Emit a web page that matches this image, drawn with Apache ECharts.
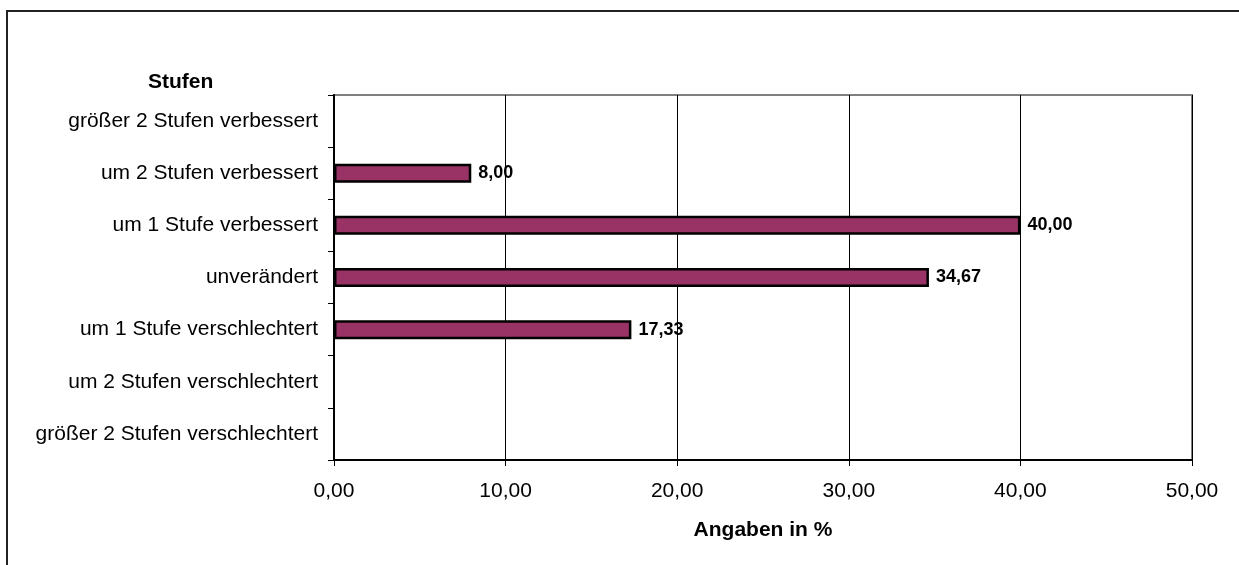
<!DOCTYPE html>
<html>
<head>
<meta charset="utf-8">
<script src="https://cdn.jsdelivr.net/npm/echarts@6/dist/echarts.min.js"></script>
<style>
  html, body { margin: 0; padding: 0; background: #fff; }
  #chart { width: 1239px; height: 565px; }
</style>
</head>
<body>
<div id="chart"></div>
<script>
// Categories listed top to bottom
const stufen = [
  'größer 2 Stufen verbessert',
  'um 2 Stufen verbessert',
  'um 1 Stufe verbessert',
  'unverändert',
  'um 1 Stufe verschlechtert',
  'um 2 Stufen verschlechtert',
  'größer 2 Stufen verschlechtert'
];
// Share in percent ('-' = no value)
const anteile = ['-', 8.00, 40.00, 34.67, 17.33, '-', '-'];

const axisMin = 0;
const axisMax = 50;
const axisStep = 10;

const fmt = v => Number(v).toFixed(2).replace('.', ',');
const fontFamily = 'Liberation Sans, Arial, sans-serif';

const chart = echarts.init(document.getElementById('chart'), null, { renderer: 'canvas' });

chart.setOption({
  animation: false,
  backgroundColor: '#ffffff',
  textStyle: { fontFamily: fontFamily },
  title: {
    text: 'Stufen',
    left: 148,
    top: 72,
    padding: 0,
    textStyle: { fontFamily: fontFamily, fontSize: 21, fontWeight: 'bold', color: '#000' }
  },
  graphic: [{
    type: 'rect',
    shape: { x: 7, y: 11, width: 1400, height: 800 },
    style: { fill: 'none', stroke: '#222', lineWidth: 2 },
    silent: true
  }],
  grid: {
    left: 334,
    right: 47,
    top: 95,
    bottom: 105,
    show: true,
    borderColor: '#808080',
    borderWidth: 2,
    backgroundColor: 'transparent',
    outerBoundsMode: 'none'
  },
  xAxis: {
    type: 'value',
    min: axisMin,
    max: axisMax,
    interval: axisStep,
    name: 'Angaben in %',
    nameLocation: 'middle',
    nameGap: 60,
    nameTextStyle: { fontFamily: fontFamily, fontSize: 21, fontWeight: 'bold', color: '#000' },
    axisLine: { show: true, lineStyle: { color: '#000', width: 2 } },
    axisTick: { show: true, inside: false, length: 6, lineStyle: { color: '#000', width: 1 } },
    axisLabel: {
      margin: 21,
      fontFamily: fontFamily,
      fontSize: 21,
      color: '#000',
      formatter: v => fmt(v)
    },
    splitLine: { show: true, lineStyle: { color: '#000', width: 1 } }
  },
  yAxis: {
    type: 'category',
    data: stufen,
    inverse: true,
    axisLine: { show: true, lineStyle: { color: '#000', width: 2 } },
    axisTick: { show: true, inside: false, length: 6, lineStyle: { color: '#000', width: 1 } },
    axisLabel: {
      margin: 16,
      fontFamily: fontFamily,
      fontSize: 21,
      color: '#000'
    },
    splitLine: { show: false }
  },
  series: [{
    type: 'bar',
    data: anteile,
    barWidth: 19,
    itemStyle: { color: '#993366', borderColor: '#000', borderWidth: 2.5 },
    label: {
      show: true,
      position: 'right',
      distance: 7,
      fontFamily: fontFamily,
      fontSize: 18,
      fontWeight: 'bold',
      color: '#000',
      formatter: p => fmt(p.value)
    }
  }]
});
</script>
</body>
</html>
